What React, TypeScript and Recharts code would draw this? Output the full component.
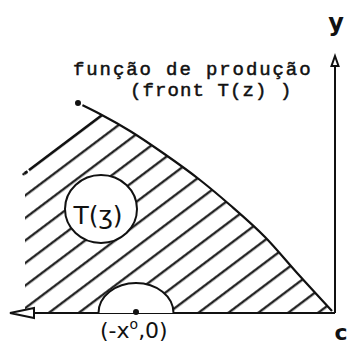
import React from 'react';
import { ComposedChart, Area, Line, XAxis, YAxis, ReferenceLine, ReferenceDot } from 'recharts';

// Production frontier T(z): input z (negative, to the left of the origin) against output y
const frontierZ = [-25.7, -23.5, -20.5, -17.2, -13.5, -10.5, -7.0, -3.7, -0.3];
const frontierY = [21.0, 19.9, 18.2, 16.0, 13.3, 10.8, 7.6, 3.9, 0.2];

// Left edge of the hatched production set (first hatch stroke up to the frontier)
const edgeZ = [-31.0, -27.2, -23.3];
const edgeY = [14.0, 16.9, 19.8];

// Marked points
const basePoint = { z: -19.9, y: 0 };
const setLabelPoint = { z: -23.4, y: 10.4 };

const frontierData = frontierZ.map((x, i) => ({ x, y: frontierY[i] }));
const hatchData = [
  ...edgeZ.map((x, i) => ({ x, y: edgeY[i] })),
  ...frontierData.filter((d) => d.x > edgeZ[edgeZ.length - 1]),
];

const INK = '#111';

const textShape =
  (content: React.ReactNode, style: React.SVGProps<SVGTextElement>) =>
  (p: any) =>
    (
      <text x={p.cx} y={p.cy} fill={INK} {...style}>
        {content}
      </text>
    );

export default function App() {
  return (
    <div style={{ position: 'absolute', left: 0, top: 0, background: '#fff' }}>
      <ComposedChart width={347} height={344} margin={{ top: 0, right: 0, bottom: 0, left: 0 }}>
        <defs>
          <pattern
            id="hatch"
            patternUnits="userSpaceOnUse"
            width={18}
            height={18}
            patternTransform="rotate(-37)"
          >
            <line x1={-1} y1={9.3} x2={19} y2={9.3} stroke={INK} strokeWidth={2.2} />
          </pattern>
        </defs>
        <XAxis type="number" dataKey="x" domain={[-33.5, 1.2]} hide allowDataOverflow />
        <YAxis type="number" dataKey="y" domain={[-3.1, 31.3]} hide allowDataOverflow />

        <Area
          data={hatchData}
          dataKey="y"
          type="linear"
          baseValue={0}
          fill="url(#hatch)"
          fillOpacity={1}
          stroke="none"
          isAnimationActive={false}
        />
        <ReferenceLine
          segment={[
            { x: edgeZ[0], y: edgeY[0] },
            { x: edgeZ[2], y: edgeY[2] },
          ]}
          stroke={INK}
          strokeWidth={2.2}
          ifOverflow="visible"
        />
        <Line
          data={frontierData}
          dataKey="y"
          type="monotone"
          stroke={INK}
          strokeWidth={2.2}
          dot={false}
          isAnimationActive={false}
        />

        {/* axes */}
        <ReferenceLine
          segment={[
            { x: -30, y: 0 },
            { x: 0, y: 0 },
          ]}
          stroke={INK}
          strokeWidth={2}
          ifOverflow="visible"
        />
        <ReferenceLine
          segment={[
            { x: 0, y: 0 },
            { x: 0, y: 24.8 },
          ]}
          stroke={INK}
          strokeWidth={2}
          ifOverflow="visible"
        />
        <ReferenceDot
          x={-32.5}
          y={0}
          ifOverflow="visible"
          shape={(p: any) => (
            <polygon
              points={`${p.cx},${p.cy} ${p.cx + 24},${p.cy - 5} ${p.cx + 24},${p.cy + 5}`}
              fill="#fff"
              stroke={INK}
              strokeWidth={2}
            />
          )}
        />
        <ReferenceDot
          x={0}
          y={25.7}
          ifOverflow="visible"
          shape={(p: any) => (
            <polygon
              points={`${p.cx},${p.cy} ${p.cx + 3.5},${p.cy + 10} ${p.cx - 3.5},${p.cy + 10}`}
              fill="#fff"
              stroke={INK}
              strokeWidth={2}
            />
          )}
        />

        {/* T(z) marker */}
        <ReferenceDot
          x={setLabelPoint.z}
          y={setLabelPoint.y}
          ifOverflow="visible"
          shape={(p: any) => (
            <g>
              <ellipse cx={p.cx} cy={p.cy} rx={36} ry={34} fill="#fff" stroke={INK} strokeWidth={2} />
              <text
                x={p.cx - 3}
                y={p.cy + 15}
                textAnchor="middle"
                fontFamily="DejaVu Sans"
                fontSize={25}
                fill={INK}
              >
                T(ʒ)
              </text>
            </g>
          )}
        />

        {/* point (-x°, 0) */}
        <ReferenceDot
          x={basePoint.z}
          y={basePoint.y}
          ifOverflow="visible"
          shape={(p: any) => (
            <g>
              <path
                d={`M${p.cx - 37.5},${p.cy} A37.5,30 0 0 1 ${p.cx + 37.5},${p.cy}`}
                fill="#fff"
                stroke={INK}
                strokeWidth={2}
              />
              <circle cx={p.cx} cy={p.cy - 1} r={3} fill={INK} />
            </g>
          )}
        />

        {/* texts */}
        <ReferenceDot
          x={-26.2}
          y={23.8}
          ifOverflow="visible"
          shape={textShape('função de produção', {
            fontFamily: 'Liberation Mono',
            fontSize: 19,
            letterSpacing: 1.9,
            stroke: INK,
            strokeWidth: 0.5,
            textAnchor: 'start',
          })}
        />
        <ReferenceDot
          x={-20.5}
          y={21.7}
          ifOverflow="visible"
          shape={textShape('(front T(z) )', {
            fontFamily: 'Liberation Mono',
            fontSize: 19,
            letterSpacing: 1.1,
            stroke: INK,
            strokeWidth: 0.5,
            textAnchor: 'start',
          })}
        />
        <ReferenceDot
          x={0.1}
          y={28.2}
          ifOverflow="visible"
          shape={textShape('y', {
            fontFamily: 'DejaVu Sans',
            fontWeight: 'bold',
            fontSize: 24,
            textAnchor: 'middle',
          })}
        />
        <ReferenceDot
          x={0.6}
          y={-2.7}
          ifOverflow="visible"
          shape={textShape('c', {
            fontFamily: 'DejaVu Sans',
            fontWeight: 'bold',
            fontSize: 22,
            textAnchor: 'middle',
          })}
        />
        <ReferenceDot
          x={-23.5}
          y={-2.5}
          ifOverflow="visible"
          shape={textShape(
            <>
              (-x
              <tspan dy={-9} fontSize={14}>
                o
              </tspan>
              <tspan dy={9}>,0)</tspan>
            </>,
            { fontFamily: 'DejaVu Sans', fontSize: 22, textAnchor: 'start' }
          )}
        />
      </ComposedChart>
    </div>
  );
}
